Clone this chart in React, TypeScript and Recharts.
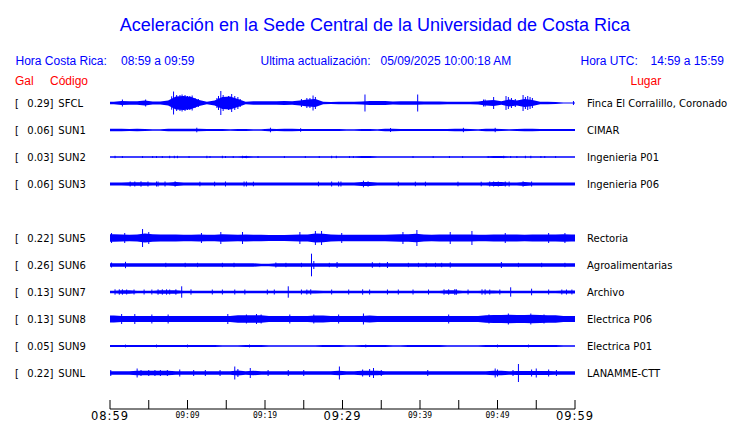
import React from 'react';
import { ComposedChart, Area, Scatter, ErrorBar, XAxis, YAxis } from 'recharts';

// ---------- data ----------
const STATIONS = ['SFCL', 'SUN1', 'SUN2', 'SUN3', 'SUN5', 'SUN6', 'SUN7', 'SUN8', 'SUN9', 'SUNL'];
const PEAK_GAL = ['0.29', '0.06', '0.03', '0.06', '0.22', '0.26', '0.13', '0.13', '0.05', '0.22'];
const PLACES = [
  'Finca El Corralillo, Coronado', 'CIMAR', 'Ingenieria P01', 'Ingenieria P06', 'Rectoria',
  'Agroalimentarias', 'Archivo', 'Electrica P06', 'Electrica P01', 'LANAMME-CTT',
];

// envelope half-amplitude per minute (relative units)
const SFCL_ENV = [1.3,2,1.7,1.7,2.5,1.5,1.5,2.5,6.5,7,6,3,1.3,2.5,6,6.5,4,1.3,1.7,1.7,1.7,1.7,2,1.7,2.5,3.5,4,1.3,1.0,1.3,1.3,1.3,1.5,2,2,2,1.5,1.7,1.7,1.7,1.5,1.5,1.5,1.3,1.2,1.2,1.2,1.5,2.5,3,1.7,3.5,2.5,4,3,1.3,1.3,1.0,0.6,0.6];
const SUN1_ENV = [1.2,1.2,1.1,1.2,1.0,0.7,0.8,1.2,1.2,1.2,1.3,1.2,1.0,1.0,0.9,0.8,1.1,1.1,0.7,0.8,1.3,1.1,1.2,1.2,1.1,1.0,1.0,1.1,0.9,1.1,0.8,0.8,0.9,1.0,0.8,1.2,1.2,1.0,1.0,0.9,1.0,1.1,0.9,1.1,1.2,1.3,1.0,0.8,1.2,1.2,1.1,0.8,1.0,1.2,1.2,1.0,1.0,1.1,1.0,1.1];
const SUN2_ENV = [0.8,0.65,0.65,0.65,0.65,0.65,0.65,0.65,0.8,0.65,0.65,0.65,0.65,0.65,0.65,0.65,0.65,0.9,0.65,0.65,0.65,0.65,0.65,0.65,0.65,0.65,0.65,0.65,0.65,0.65,0.65,0.65,1.0,1.0,0.65,0.65,0.65,0.65,0.65,0.65,0.65,0.65,0.65,0.65,0.65,0.65,0.65,0.65,0.65,1.0,0.9,0.65,0.65,0.65,0.65,0.65,0.65,0.65,0.65,0.65];
const SUN3_ENV = [1.6,1.6,1.8,1.8,1.8,1.6,1.6,1.6,1.9,1.6,1.6,1.6,1.6,1.6,1.6,1.6,1.6,1.6,1.6,1.6,1.6,1.6,1.6,1.6,1.6,1.6,1.6,1.6,1.6,1.6,1.6,1.6,2.0,2.0,1.6,1.6,1.6,1.6,1.6,1.6,1.6,1.6,1.6,1.6,1.6,1.6,1.6,1.6,1.6,1.9,1.9,1.6,1.6,1.9,1.6,1.6,1.6,1.6,1.6,1.6];
const SUN5_ENV = [3.8,3.5,3.3,3.6,4.5,3.8,3.5,3.5,3.4,3.3,3.3,3.5,3.2,3.3,3.8,3.4,3.3,3.6,3.3,3.2,3.0,3.1,3.0,3.2,3.5,3.6,4.5,4.2,3.5,3.3,3.3,3.2,3.2,3.3,3.2,3.3,3.4,3.8,3.8,4.2,3.5,3.3,3.4,3.6,3.6,3.5,3.5,3.3,3.3,3.5,3.5,3.6,3.4,3.3,3.4,3.6,3.4,3.5,3.7,3.6];
const SUN6_ENV = [1.7,1.7,1.7,1.7,1.7,1.7,1.7,1.7,1.7,1.7,1.7,1.7,1.7,1.7,1.7,1.7,1.7,1.7,1.7,1.2,1.2,1.7,1.7,1.7,1.7,1.7,1.7,1.7,1.7,1.7,1.7,1.7,1.7,1.7,1.7,1.7,1.7,1.7,1.7,1.7,1.7,1.7,1.7,1.7,1.7,1.7,1.7,1.7,1.7,1.7,1.7,1.7,1.7,1.7,1.7,1.7,1.7,1.7,1.7,1.7];
const SUN7_ENV = [1.3,1.8,1.8,1.3,1.3,1.3,1.7,1.7,1.7,1.3,1.3,1.3,1.3,1.3,1.3,1.3,1.3,1.3,1.3,1.3,1.3,1.3,1.3,1.3,1.3,1.6,1.6,1.3,1.3,1.3,1.3,1.3,1.3,1.3,1.3,1.3,1.3,1.3,1.3,1.3,1.3,1.3,1.3,1.8,1.8,1.3,1.3,1.3,1.6,1.6,1.3,1.3,1.3,1.3,1.3,1.3,1.3,1.3,1.6,1.6];
const SUN8_ENV = [3.5,3.0,3.0,3.0,3.0,3.0,3.0,3.0,3.0,3.0,3.0,3.0,3.0,3.0,3.0,3.0,3.8,3.8,3.8,3.8,3.0,3.0,3.0,3.0,3.0,3.0,3.4,3.4,3.0,3.0,3.0,3.0,3.0,3.4,3.0,3.0,3.0,3.0,3.0,3.0,3.0,3.0,3.0,3.0,3.0,3.0,3.0,3.0,3.8,4.0,4.0,4.2,4.0,4.0,4.2,4.0,3.8,3.8,3.0,3.0];
const SUN9_ENV = [1.0,1.0,1.0,1.0,1.0,1.0,1.0,1.0,1.0,1.0,1.0,1.0,1.0,1.0,0.65,0.65,0.65,1.0,1.0,1.0,0.8,0.8,0.8,0.8,0.8,0.65,0.65,1.0,1.0,1.0,0.65,0.65,1.0,1.0,1.0,1.0,0.7,0.7,0.9,0.9,0.9,0.9,0.9,0.7,0.7,0.7,0.7,0.7,1.1,1.1,1.1,1.1,1.1,1.1,1.1,1.1,1.1,1.1,0.7,0.7];
const SUNL_ENV = [1.7,1.7,1.7,2.2,2.2,2.2,2.2,2.2,1.7,1.7,1.7,1.7,1.7,1.7,1.7,1.7,2.5,1.7,2.2,1.7,1.7,1.7,1.7,1.7,1.7,1.7,1.7,1.7,1.7,2.2,1.7,1.7,2.3,2.3,2.3,1.7,1.7,1.7,1.7,1.7,1.7,1.7,1.7,1.7,1.7,1.7,1.7,1.7,1.7,2.3,2.3,1.7,2.0,2.0,2.0,2.0,2.0,1.7,1.7,1.7];

// isolated peaks: [minute, half-amplitude]
const SFCL_PEAKS = [[1.6,3.5],[4.6,3.5],[7.96,6.7],[8.2,11.5],[8.6,8],[9.03,8],[9.3,8.5],[9.68,8],[10.0,7],[10.3,7],[10.6,7.5],[10.97,5],[11.4,4],[13.8,5],[14.0,7],[14.3,12],[14.6,8],[14.9,6],[15.3,7],[15.7,9],[16.1,7],[16.5,6],[16.8,4],[24.7,4],[25.4,5],[25.8,5],[26.2,7.5],[26.5,6],[32.9,8.5],[39.7,8.5],[48.2,3.5],[48.4,3.5],[49.5,6],[51.1,7],[51.4,6],[51.8,5],[52.3,4],[53.3,8],[53.6,6],[53.9,7],[54.2,6],[54.5,5],[59.8,2]];
const SUN1_PEAKS = [[11.2,2.3],[20.7,2.3],[24.6,1.8],[36.2,2],[45.6,2.2],[49.7,2.2]];
const SUN2_PEAKS = [[0.65,1.2],[1.6,1.0],[4.2,1.0],[5.5,1.0],[6.0,1.0],[6.75,1.0],[7.7,1.2],[8.3,1.2],[8.7,1.2],[10.2,1.0],[12.5,1.2],[12.9,1.0],[14.5,1.2],[14.9,1.0],[15.9,1.0],[17.1,1.2],[17.6,1.2],[19.1,1.0],[22.5,1.0],[25.2,1.0],[27.0,1.0],[28.6,1.2],[29.2,1.2],[30.9,1.0],[31.4,1.0],[39.1,1.0],[41.7,1.0],[43.8,1.0],[45.5,1.0],[48.8,1.0],[50.8,1.2],[51.7,1.0],[52.5,1.0],[53.6,1.2],[54.3,1.2],[55.6,1.0],[56.1,1.0],[57.5,1.0]];
const SUN3_PEAKS = [[2.6,2.5],[3.2,2.5],[4.0,2.7],[4.9,2.5],[6.0,2.5],[6.2,2.5],[7.1,2.5],[8.4,2.7],[11.6,2.3],[13.5,2.3],[14.9,2.5],[17.3,2.5],[17.6,2.5],[18.5,2.3],[26.9,2.3],[28.6,2.5],[29.5,2.5],[29.8,2.5],[32.7,3.3],[33.3,2.7],[37.2,2.3],[39.4,2.3],[40.7,2.3],[44.9,2.3],[47.9,2.3],[49.0,2.5],[49.5,2.5],[50.1,2.5],[51.0,2.5],[51.5,2.5],[53.3,2.7],[54.4,2.5]];
const SUN5_PEAKS = [[0.2,5],[1.9,5],[4.2,9],[5.0,6],[11.8,5],[14.3,6],[17.1,6],[24.5,6],[26.5,7],[27.3,7],[29.9,5],[37.8,6],[39.6,8],[43.9,6],[46.7,7],[51.0,5],[56.6,5],[58.7,5]];
const SUN6_PEAKS = [[0.2,2.5],[2.0,3.2],[7.2,2.2],[9.7,2.2],[11.3,2.2],[14.5,2.2],[16.0,2.2],[21.4,2.5],[22.7,2.2],[24.7,2.2],[26.0,11.3],[26.3,4],[28.3,2.2],[29.3,3],[33.85,2.8],[34.8,2.2],[35.8,3],[38.5,2.2],[39.8,2.2],[40.8,2.2],[42.0,2.2],[42.8,2.2],[43.9,2.6],[50.5,3],[52.7,2.2],[55.7,2.2],[58.7,2.2]];
const SUN7_PEAKS = [[0.65,2.7],[1.2,2.7],[1.6,2.7],[2.15,2.5],[3.1,2.5],[4.4,2.5],[5.4,2.5],[6.2,2.7],[6.75,2.7],[7.3,2.7],[7.7,2.5],[8.5,2.7],[9.25,5.7],[10.45,2.7],[13.2,2.5],[14.5,2.5],[16.1,2.5],[17.4,2.5],[20.3,2.5],[21.2,2.5],[23.0,5.7],[24.7,2.5],[25.4,2.5],[25.9,2.7],[28.6,2.5],[30.8,2.5],[32.6,2.7],[33.5,2.5],[35.8,2.5],[37.2,2.5],[39.1,2.5],[41.1,2.5],[43.1,2.7],[43.7,2.7],[44.5,3.0],[44.7,2.7],[46.2,2.5],[48.0,2.7],[48.4,2.7],[49.0,2.5],[50.3,2.5],[51.7,4.7],[54.4,3.3],[56.6,2.5],[58.3,2.5],[58.9,2.5],[59.6,2.5]];
const SUN8_PEAKS = [[1.5,5],[3.2,5],[5.4,4.5],[7.5,4.5],[15.2,5],[17.6,4.5],[18.9,5],[19.5,4.5],[23.2,4.5],[26.3,4.5],[29.5,4.5],[32.7,5.5],[43.7,4.5],[48.9,4.5],[51.4,5.5],[54.3,5.5],[56.0,4.5]];
const SUN9_PEAKS = [[2.0,1.4],[6.0,1.4],[10.0,1.4],[18.0,1.4],[33.0,1.4],[50.0,1.4],[54.0,1.4]];
const SUNL_PEAKS = [[0.1,3],[3.5,4.5],[4.0,3],[5.0,3],[5.8,3],[6.5,3],[7.4,3],[9.0,3.5],[10.8,3],[12.3,3],[14.2,3],[16.1,6.5],[16.5,4],[18.1,5],[20.4,3],[23.0,3],[25.0,3],[29.6,6.5],[32.6,3.5],[33.5,4],[34.0,5],[35.0,3],[41.0,3],[49.7,4.5],[50.0,3.5],[52.0,3],[52.7,9],[54.4,3.5],[55.0,4.5],[56.6,3.5],[57.6,3]];

const TRACE_ENVS = [SFCL_ENV, SUN1_ENV, SUN2_ENV, SUN3_ENV, SUN5_ENV, SUN6_ENV, SUN7_ENV, SUN8_ENV, SUN9_ENV, SUNL_ENV];
const TRACE_PEAKS = [SFCL_PEAKS, SUN1_PEAKS, SUN2_PEAKS, SUN3_PEAKS, SUN5_PEAKS, SUN6_PEAKS, SUN7_PEAKS, SUN8_PEAKS, SUN9_PEAKS, SUNL_PEAKS];

const TIME_TICKS = [0, 5, 10, 15, 20, 25, 30, 35, 40, 45, 50, 55, 60];
const TIME_LABELS = ['08:59', '', '09:09', '', '09:19', '', '09:29', '', '09:39', '', '09:49', '', '09:59'];
const MAJOR_LABELS = ['08:59', '09:29', '09:59'];

const TITLE = 'Aceleración en la Sede Central de la Universidad de Costa Rica';
const LOCAL_RANGE = '08:59 a 09:59';
const UTC_RANGE = '14:59 a 15:59';
const UPDATED = '05/09/2025 10:00:18 AM';

// ---------- layout ----------
const BLUE = '#0000ff';
const RED = '#ff0000';
const ROW_SLOTS = [0, 1, 2, 3, 5, 6, 7, 8, 9, 10];
const ROW_TOP0 = 90;
const ROW_STEP = 27;
const ROW_H = 26;
const PLOT_X = 110;
const PLOT_W = 465;

function Trace({ env, peaks }: { env: number[]; peaks: number[][] }) {
  const n = env.length;
  // each minute's envelope sits at the middle of its minute; edges hold the end values
  const data = [{ t: 0, band: [-env[0], env[0]] }];
  env.forEach((a, i) => data.push({ t: i + 0.5, band: [-a, a] }));
  data.push({ t: n, band: [-env[n - 1], env[n - 1]] });
  const peakData = peaks.map(([t, a]) => ({ t, y: 0, e: a }));
  return (
    <ComposedChart width={PLOT_W} height={ROW_H} data={data} margin={{ top: 0, right: 0, bottom: 0, left: 0 }}>
      <XAxis type="number" dataKey="t" domain={[0, 60]} hide allowDataOverflow />
      <YAxis type="number" domain={[-13, 13]} hide allowDataOverflow />
      <Area type="linear" dataKey="band" stroke="none" fill={BLUE} fillOpacity={1} isAnimationActive={false} />
      <Scatter data={peakData} dataKey="y" shape={() => <g />} isAnimationActive={false}>
        <ErrorBar dataKey="e" direction="y" width={0} stroke={BLUE} strokeWidth={1} isAnimationActive={false} />
      </Scatter>
    </ComposedChart>
  );
}

const AxisTick = (props: any) => {
  const { x, payload } = props;
  const idx = TIME_TICKS.indexOf(payload.value);
  const label = TIME_LABELS[idx];
  if (!label) return <g />;
  const major = MAJOR_LABELS.includes(label);
  return major ? (
    <text x={x} y={21} textAnchor="middle" fontFamily="DejaVu Sans" fontSize={11.5} letterSpacing={1} fill="#000">{label}</text>
  ) : (
    <text x={x} y={18.5} textAnchor="middle" fontFamily="DejaVu Sans Mono" fontSize={8} fill="#000">{label}</text>
  );
};

export default function App() {
  const axisData = TIME_TICKS.map((t) => ({ t }));
  return (
    <div style={{ position: 'absolute', left: 0, top: 0, width: 740, height: 423, background: '#fff', overflow: 'hidden' }}>
      {TRACE_ENVS.map((env, i) => (
        <div key={STATIONS[i]} style={{ position: 'absolute', left: PLOT_X, top: ROW_TOP0 + ROW_STEP * ROW_SLOTS[i] }}>
          <Trace env={env} peaks={TRACE_PEAKS[i]} />
        </div>
      ))}
      <div style={{ position: 'absolute', left: PLOT_X - 50, top: 399 }}>
        <ComposedChart width={PLOT_W + 95} height={30} data={axisData} margin={{ top: 0, right: 45, bottom: 0, left: 50 }}>
          <XAxis
            type="number"
            dataKey="t"
            domain={[0, 60]}
            ticks={TIME_TICKS}
            orientation="top"
            height={10}
            tickSize={9}
            tickMargin={2}
            interval={0}
            stroke="#000"
            tickLine={{ stroke: '#000' }}
            axisLine={{ stroke: '#000' }}
            tick={<AxisTick />}
          />
          <YAxis hide domain={[0, 1]} />
        </ComposedChart>
      </div>
      <svg width={740} height={423} style={{ position: 'absolute', left: 0, top: 0, pointerEvents: 'none' }}>
        <text x={375} y={31} textAnchor="middle" fontFamily="Liberation Sans" fontSize={18} fill={BLUE}>{TITLE}</text>
        <g fontFamily="Liberation Sans" fontSize={12} fill={BLUE}>
          <text x={15.5} y={65}>Hora Costa Rica:</text>
          <text x={121} y={65}>{LOCAL_RANGE}</text>
          <text x={260.5} y={65}>Ultima actualización:</text>
          <text x={380.5} y={65}>{UPDATED}</text>
          <text x={580.5} y={65}>Hora UTC:</text>
          <text x={650.5} y={65}>{UTC_RANGE}</text>
        </g>
        <g fontFamily="Liberation Sans" fontSize={12} fill={RED}>
          <text x={15} y={85}>Gal</text>
          <text x={50} y={85}>Código</text>
          <text x={630.5} y={85}>Lugar</text>
        </g>
        <g fontFamily="DejaVu Sans" fontSize={10} fill="#000">
          {STATIONS.map((s, i) => {
            const base = ROW_TOP0 + ROW_STEP * ROW_SLOTS[i] + ROW_H / 2 + 4;
            return (
              <g key={s}>
                <text x={15} y={base}>[</text>
                <text x={27.3} y={base}>{PEAK_GAL[i]}]</text>
                <text x={58.3} y={base}>{s}</text>
                <text x={587} y={base}>{PLACES[i]}</text>
              </g>
            );
          })}
        </g>
      </svg>
    </div>
  );
}
